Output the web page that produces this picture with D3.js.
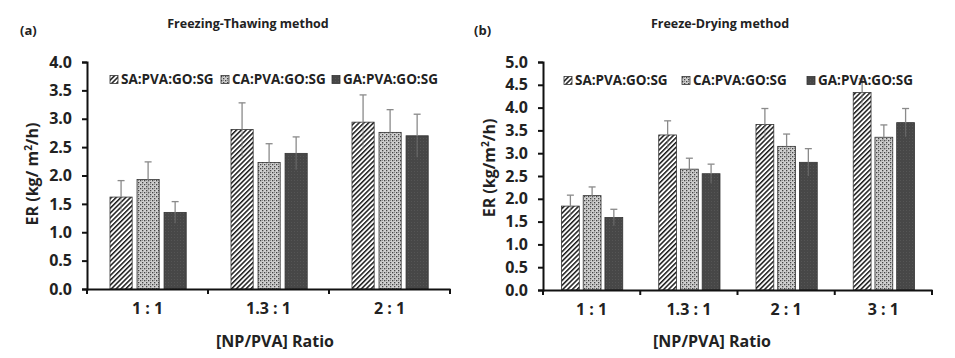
<!DOCTYPE html>
<html>
<head>
<meta charset="utf-8">
<script src="https://cdn.jsdelivr.net/npm/d3@7"></script>
<style>
  body { margin: 0; background: #fff; }
  text { font-family: "Open Sans", sans-serif; font-weight: 700; fill: #222; }
</style>
</head>
<body>
<div id="chart"></div>
<script>
// series names (legend)
const seriesNames = ["SA:PVA:GO:SG", "CA:PVA:GO:SG", "GA:PVA:GO:SG"];

// (a) Freezing-Thawing
const ftRatios = ["1 : 1", "1.3 : 1", "2 : 1"];
const ftSA = [1.62, 2.81, 2.94];
const ftCA = [1.93, 2.23, 2.76];
const ftGA = [1.35, 2.39, 2.70];
const ftSAerr = [0.29, 0.47, 0.48];
const ftCAerr = [0.31, 0.33, 0.40];
const ftGAerr = [0.19, 0.29, 0.38];
const ftTicks = [0, 0.5, 1, 1.5, 2, 2.5, 3, 3.5, 4];

// (b) Freeze-Drying
const fdRatios = ["1 : 1", "1.3 : 1", "2 : 1", "3 : 1"];
const fdSA = [1.84, 3.40, 3.63, 4.33];
const fdCA = [2.07, 2.65, 3.15, 3.35];
const fdGA = [1.59, 2.55, 2.80, 3.67];
const fdSAerr = [0.24, 0.31, 0.35, 0.30];
const fdCAerr = [0.19, 0.24, 0.27, 0.27];
const fdGAerr = [0.18, 0.21, 0.30, 0.31];
const fdTicks = [0, 0.5, 1, 1.5, 2, 2.5, 3, 3.5, 4, 4.5, 5];

const width = 955, height = 358;

const svg = d3.select("#chart")
    .append("svg")
    .attr("width", width)
    .attr("height", height);

// fill patterns
const defs = svg.append("defs");

const hatch = defs.append("pattern")
    .attr("id", "hatch")
    .attr("patternUnits", "userSpaceOnUse")
    .attr("width", 3.4).attr("height", 3.4)
    .attr("patternTransform", "rotate(45)");
hatch.append("rect").attr("width", 3.4).attr("height", 3.4).attr("fill", "#fff");
hatch.append("rect").attr("width", 1.5).attr("height", 3.4).attr("fill", "#1a1a1a");

const dots = defs.append("pattern")
    .attr("id", "dots")
    .attr("patternUnits", "userSpaceOnUse")
    .attr("width", 4).attr("height", 4);
dots.append("rect").attr("width", 4).attr("height", 4).attr("fill", "#cfcfcf");
dots.append("rect").attr("x", 0).attr("y", 0).attr("width", 1.3).attr("height", 1.3).attr("fill", "#444");
dots.append("rect").attr("x", 2).attr("y", 2).attr("width", 1.3).attr("height", 1.3).attr("fill", "#444");
dots.append("rect").attr("x", 2).attr("y", 0).attr("width", 1).attr("height", 1).attr("fill", "#8a8a8a");

const dark = defs.append("pattern")
    .attr("id", "dark")
    .attr("patternUnits", "userSpaceOnUse")
    .attr("width", 3).attr("height", 3);
dark.append("rect").attr("width", 3).attr("height", 3).attr("fill", "#474747");
dark.append("rect").attr("width", 1).attr("height", 1).attr("fill", "#555");

const fills = ["url(#hatch)", "url(#dots)", "url(#dark)"];

function drawPanel(cfg) {
    const g = svg.append("g");

    // Create Y scale
    const y = d3.scaleLinear()
        .domain([0, cfg.yMax])
        .range([cfg.bottom, cfg.top]);

    // Create X scale (groups) and inner scale (series)
    const x0 = d3.scaleBand()
        .domain(cfg.ratios)
        .range([cfg.left, cfg.right])
        .padding(0);
    const bw = x0.bandwidth();
    const x1 = d3.scaleBand()
        .domain(seriesNames)
        .range([bw * 0.19, bw * 0.82])
        .paddingInner(0.18);

    const rows = [];
    cfg.ratios.forEach((r, i) => {
        cfg.values.forEach((vals, s) => {
            rows.push({ ratio: r, series: seriesNames[s], s: s, v: vals[i], e: cfg.errs[s][i] });
        });
    });

    // bars
    g.selectAll(".bar")
        .data(rows)
        .enter()
        .append("rect")
        .attr("class", "bar")
        .attr("x", d => x0(d.ratio) + x1(d.series))
        .attr("y", d => y(d.v))
        .attr("width", x1.bandwidth())
        .attr("height", d => y(0) - y(d.v))
        .attr("fill", d => fills[d.s])
        .attr("stroke", "#333")
        .attr("stroke-width", 0.8);

    // error bars (lower half mostly hidden in the bar)
    const cx = d => x0(d.ratio) + x1(d.series) + x1.bandwidth() / 2;
    const eb = g.selectAll(".err")
        .data(rows)
        .enter()
        .append("g")
        .attr("class", "err")
        .attr("stroke", "#8a8a8a")
        .attr("stroke-width", 1.3);
    eb.append("line")
        .attr("x1", cx).attr("x2", cx)
        .attr("y1", d => y(d.v))
        .attr("y2", d => y(d.v + d.e));
    eb.append("line")
        .attr("stroke-opacity", 0.45)
        .attr("x1", cx).attr("x2", cx)
        .attr("y1", d => y(d.v - d.e))
        .attr("y2", d => y(d.v));
    eb.append("line")
        .attr("x1", d => cx(d) - 3.5)
        .attr("x2", d => cx(d) + 3.5)
        .attr("y1", d => y(d.v + d.e))
        .attr("y2", d => y(d.v + d.e));

    // Add y axis
    const yAxis = g.append("g")
        .attr("transform", `translate(${cfg.left}, 0)`)
        .call(d3.axisLeft(y).tickValues(cfg.ticks).tickFormat(d3.format(".1f")).tickSize(5).tickPadding(10));
    yAxis.selectAll("text").attr("font-size", "16px").attr("fill", "#222");
    yAxis.selectAll("line").attr("stroke", "#111").attr("stroke-width", 2);
    yAxis.select(".domain").attr("stroke", "#111").attr("stroke-width", 2);

    // Add x axis (labels centred, ticks at group edges)
    const xAxis = g.append("g")
        .attr("transform", `translate(0, ${cfg.bottom})`)
        .call(d3.axisBottom(x0).tickSize(0).tickPadding(14));
    xAxis.select(".domain").attr("stroke", "#111").attr("stroke-width", 2.2);
    xAxis.selectAll("text").attr("font-size", "16px").attr("fill", "#222");

    const edges = cfg.ratios.map(r => x0(r)).concat([x0.range()[1]]);
    g.selectAll(".xtick")
        .data(edges)
        .enter()
        .append("line")
        .attr("class", "xtick")
        .attr("x1", d => d).attr("x2", d => d)
        .attr("y1", cfg.bottom).attr("y2", cfg.bottom + 5)
        .attr("stroke", "#111").attr("stroke-width", 2);

    // axis titles
    g.append("text")
        .attr("x", cfg.xTitleX)
        .attr("y", 347)
        .attr("text-anchor", "middle")
        .attr("font-size", "16px")
        .text("[NP/PVA] Ratio");

    const yt = g.append("text")
        .attr("transform", `translate(${cfg.yTitleX}, ${cfg.yTitleY}) rotate(-90)`)
        .attr("text-anchor", "middle")
        .attr("font-size", "16px");
    yt.append("tspan").text(cfg.yTitle[0]);
    yt.append("tspan").attr("font-size", "10px").attr("dy", -6).text("2");
    yt.append("tspan").attr("dy", 6).text(cfg.yTitle[1]);

    // panel title and letter
    g.append("text")
        .attr("x", cfg.titleX).attr("y", 28)
        .attr("text-anchor", "middle")
        .attr("font-size", "12.5px")
        .text(cfg.title);
    g.append("text")
        .attr("x", cfg.letterX).attr("y", 35)
        .attr("font-size", "13px")
        .text(cfg.letter);

    // legend
    const leg = g.selectAll(".leg")
        .data(seriesNames)
        .enter()
        .append("g")
        .attr("class", "leg")
        .attr("transform", (d, i) => `translate(${cfg.legendX[i]}, ${cfg.legendY})`);
    leg.append("rect")
        .attr("x", 0).attr("y", -8.5)
        .attr("width", 8).attr("height", 8)
        .attr("fill", (d, i) => fills[i])
        .attr("stroke", "#333").attr("stroke-width", 0.8);
    leg.append("text")
        .attr("x", 11).attr("y", 0)
        .attr("font-size", "13.5px")
        .text(d => d);
}

drawPanel({
    ratios: ftRatios,
    values: [ftSA, ftCA, ftGA],
    errs: [ftSAerr, ftCAerr, ftGAerr],
    ticks: ftTicks,
    yMax: 4,
    left: 87, right: 450, top: 62, bottom: 289,
    xTitleX: 275, yTitleX: 38, yTitleY: 174,
    yTitle: ["ER (kg/ m", "/h)"],
    title: "Freezing-Thawing method", titleX: 248,
    letter: "(a)", letterX: 20,
    legendX: [110, 221, 332], legendY: 84
});

drawPanel({
    ratios: fdRatios,
    values: [fdSA, fdCA, fdGA],
    errs: [fdSAerr, fdCAerr, fdGAerr],
    ticks: fdTicks,
    yMax: 5,
    left: 543, right: 932, top: 62, bottom: 290,
    xTitleX: 712, yTitleX: 495, yTitleY: 168,
    yTitle: ["ER (kg/m", "/h)"],
    title: "Freeze-Drying method", titleX: 720,
    letter: "(b)", letterX: 474,
    legendX: [564, 682, 807], legendY: 85
});
</script>
</body>
</html>
